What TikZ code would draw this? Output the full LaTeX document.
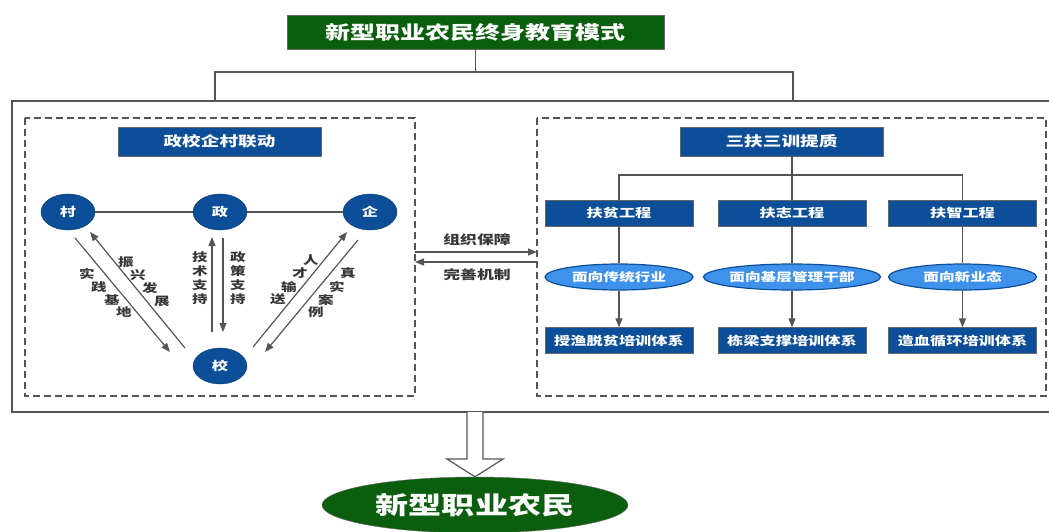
\documentclass[tikz,border=0pt]{standalone}
\usepackage{fontspec}
\setmainfont{Noto Sans CJK SC}[FakeStretch=1.35]
\usetikzlibrary{arrows.meta,shapes.geometric,calc,positioning}

\definecolor{dgreen}{RGB}{11,94,14}
\definecolor{dblue}{RGB}{12,78,152}
\definecolor{lblue}{RGB}{62,146,236}
\definecolor{lgrey}{RGB}{85,85,85}
\definecolor{tgrey}{RGB}{55,55,55}

\tikzset{
  greenbox/.style={draw=black!60, fill=dgreen, text=white, inner sep=0,
    font=\bfseries\fontsize{18.5}{20}\selectfont, minimum width=377, minimum height=34},
  bluebox/.style={draw=black!60, fill=dblue, text=white, inner sep=0,
    font=\bfseries\fontsize{12}{14}\selectfont, minimum width=148, minimum height=26},
  headbox/.style={bluebox, font=\bfseries\fontsize{13.8}{15}\selectfont,
    minimum width=203, minimum height=29},
  partner/.style={ellipse, draw=dblue!70!black, fill=dblue, text=white, inner sep=0,
    font=\bfseries\fontsize{12}{12}\selectfont, minimum width=54, minimum height=36},
  target/.style={ellipse, draw=dblue, line width=1.2, fill=lblue, text=white, inner sep=0,
    font=\bfseries\fontsize{11.6}{12}\selectfont, minimum width=148, minimum height=26},
  farmerbox/.style={ellipse, draw=black!60, fill=dgreen, text=white, inner sep=0,
    font=\bfseries\fontsize{24.5}{26}\selectfont, minimum width=306, minimum height=56},
  link/.style={draw=lgrey, line width=1.2},
  flow/.style={link, -{Triangle[length=9pt,width=7pt]}},
  lbl/.style={text=tgrey, inner sep=0, font=\bfseries\fontsize{11.5}{11.5}\selectfont},
  midlbl/.style={text=tgrey, inner sep=0, font=\bfseries\fontsize{12.5}{12.5}\selectfont},
  frame/.style={draw=lgrey, line width=1.5},
  dashframe/.style={draw=lgrey, line width=1.3, dash pattern=on 7pt off 4pt},
}

\begin{document}
\begin{tikzpicture}[x=1pt,y=1pt,yscale=-1]
\useasboundingbox (0,0) rectangle (1049,531);

% Title
\node[greenbox] (title) at (475.5,32) {新型职业农民终身教育模式};
\coordinate (split) at (475.5,72);
\coordinate (jl) at (215,101);
\coordinate (jr) at (793,101);
\draw[link] (title.south) -- (split);
\draw[link] (jl) |- (split) -| (jr);

%Shape: Rectangles
\draw[frame] (12,101) rectangle (1056,412);
\draw[dashframe] (25,118) rectangle (415,396);
\draw[dashframe] (537,118) rectangle (1046,396);

% Left part
\node[headbox] (linkage) at (219.5,141.5) {政校企村联动};
\node[partner] (cun) at (68,212) {村};
\node[partner] (zheng) at (220,212) {政};
\node[partner] (qi) at (370,212) {企};
\node[partner] (xiao) at (220,366) {校};
\draw[link] (cun) -- (zheng) -- (qi);

% arrow ends
\coordinate (a1) at (75,238);  \coordinate (a2) at (170,352);
\coordinate (b1) at (185,348); \coordinate (b2) at (90,232);
\coordinate (c1) at (212,332); \coordinate (c2) at (212,237);
\coordinate (d1) at (223,238); \coordinate (d2) at (223,332);
\coordinate (e1) at (253,347); \coordinate (e2) at (347,232);
\coordinate (f1) at (358,240); \coordinate (f2) at (265,352);
\draw[flow] (a1) -- (a2);
\draw[flow] (b1) -- (b2);
\draw[flow] (c1) -- (c2);
\draw[flow] (d1) -- (d2);
\draw[flow] (e1) -- (e2);
\draw[flow] (f1) -- (f2);

% Text Nodes
\foreach \ch/\px/\py [count=\i] in {实/87/274,践/99/287,基/112/300,地/124/312}
  \node[lbl] (sj\i) at (\px,\py) {\ch};
\foreach \ch/\px/\py [count=\i] in {振/126/262,兴/138/275,发/150/288,展/162/301}
  \node[lbl] (zx\i) at (\px,\py) {\ch};
\foreach \ch/\py [count=\i] in {技/257,术/271,支/285,持/299}
  \node[lbl] (js\i) at (200,\py) {\ch};
\foreach \ch/\py [count=\i] in {政/257,策/271,支/285,持/299}
  \node[lbl] (zc\i) at (238,\py) {\ch};
\foreach \ch/\px/\py [count=\i] in {人/311/260,才/300/273,输/289/287,送/278/299}
  \node[lbl] (rc\i) at (\px,\py) {\ch};
\foreach \ch/\px/\py [count=\i] in {真/348/273,实/337/287,案/326/300,例/316/312}
  \node[lbl] (zs\i) at (\px,\py) {\ch};

% Middle
\coordinate (g1) at (415,252); \coordinate (g2) at (537,252);
\coordinate (h1) at (537,262); \coordinate (h2) at (415,262);
\draw[flow] (g1) -- (g2);
\draw[flow] (h1) -- (h2);
\node[midlbl] (guard) at (477,240) {组织保障};
\node[midlbl] (mech) at (477,275) {完善机制};

% Right part
\node[headbox] (sanfu) at (781.5,141.5) {三扶三训提质};
\node[bluebox] (fp) at (619,213) {扶贫工程};
\node[bluebox] (fz) at (792,213) {扶志工程};
\node[bluebox] (fzh) at (962.5,213) {扶智工程};
\coordinate (bus) at (792,175);
\draw[link] (sanfu.south -| fz) -- (fz.north);
\draw[link] (fp.north) |- (bus) -| (fzh.north);

\node[target] (t1) at (619,277) {面向传统行业};
\node[target] (t2) at (792,277) {面向基层管理干部};
\node[target] (t3) at (962.5,277) {面向新业态};
\node[bluebox] (s1) at (619,340.5) {授渔脱贫培训体系};
\node[bluebox] (s2) at (792,340.5) {栋梁支撑培训体系};
\node[bluebox] (s3) at (962.5,340.5) {造血循环培训体系};
\draw[link] (fp) -- (t1);
\draw[link] (fz) -- (t2);
\draw[link] (fzh) -- (t3);
\draw[flow] (t1) -- (s1);
\draw[flow] (t2) -- (s2);
\draw[flow] (t3) -- (s3);

% Result
\node[farmerbox] (farmer) at (475,505) {新型职业农民};
\draw[frame, line width=1.2, fill=white] (467,412) -- (467,459) -- (447,459)
  -- (farmer.north) -- (503,459) -- (483,459) -- (483,412);

\end{tikzpicture}
\end{document}
